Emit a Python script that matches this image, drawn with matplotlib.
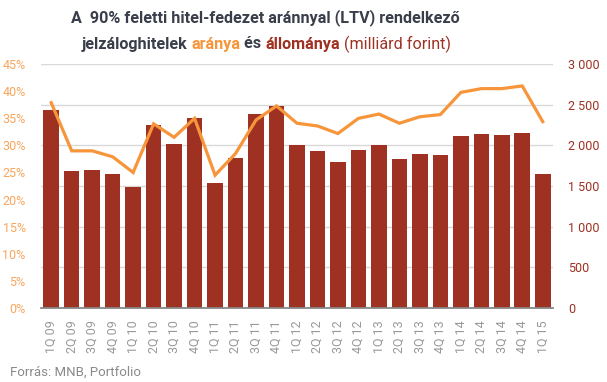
import numpy as np
import matplotlib
matplotlib.use("Agg")
import matplotlib.pyplot as plt

plt.rcParams['font.family'] = ['Roboto', 'DejaVu Sans']

quarters = ['1Q 09', '2Q 09', '3Q 09', '4Q 09', '1Q 10', '2Q 10', '3Q 10', '4Q 10',
            '1Q 11', '2Q 11', '3Q 11', '4Q 11', '1Q 12', '2Q 12', '3Q 12', '4Q 12',
            '1Q 13', '2Q 13', '3Q 13', '4Q 13', '1Q 14', '2Q 14', '3Q 14', '4Q 14', '1Q 15']
# állomány (milliárd forint) - jobb tengely
stock = [2437, 1685, 1697, 1648, 1491, 2248, 2018, 2338, 1537, 1845, 2391, 2486, 2005,
         1931, 1796, 1944, 2005, 1833, 1894, 1882, 2116, 2141, 2129, 2153, 1648]
# arány (%) - bal tengely
share = [37.9, 29.0, 29.0, 27.9, 25.0, 34.0, 31.5, 35.0, 24.5, 28.5, 34.7, 37.3, 34.1,
         33.6, 32.2, 35.0, 35.8, 34.1, 35.3, 35.7, 39.8, 40.5, 40.5, 41.0, 34.4]

left_ticks = [0, 5, 10, 15, 20, 25, 30, 35, 40, 45]
right_ticks = [0, 500, 1000, 1500, 2000, 2500, 3000]
right_labels = ['0', '500', '1 000', '1 500', '2 000', '2 500', '3 000']

BAR = '#9E3122'
LINE = '#F7953A'
LTXT = '#F9A55C'
DARK = '#3A3E4A'

fig = plt.figure(figsize=(6.07, 3.82), dpi=100)
ax = fig.add_axes([0.0675, 0.1945, 0.8435, 0.6372])
ax2 = ax.twinx()

x = np.arange(len(quarters))

# oszlopok a jobb tengelyen
ax2.bar(x, stock, width=0.76, color=BAR, zorder=2)
ax2.set_ylim(0, 3000)
ax2.set_yticks(right_ticks)
ax2.set_yticklabels(right_labels, color=BAR, fontsize=9)
ax2.tick_params(axis='y', length=0, pad=11)
for v in right_ticks[1:]:
    ax2.axhline(v, color='#D9D9D9', lw=1, zorder=0)

# a vonal legyen az oszlopok fölött
ax.set_zorder(ax2.get_zorder() + 1)
ax.patch.set_visible(False)
ax.plot(x, share, color=LINE, lw=2.3, solid_joinstyle='miter', zorder=3)
ax.set_ylim(0, 45)
ax.set_yticks(left_ticks)
ax.set_yticklabels([f'{t}%' for t in left_ticks], color=LTXT, fontsize=9)
ax.tick_params(axis='y', length=0, pad=11)
ax.set_xlim(-0.5, len(quarters) - 0.5)
ax.set_xticks(x)
ax.set_xticklabels(quarters, rotation=90, color='#999999', fontsize=9)
ax.tick_params(axis='x', length=0, pad=9)

for a in (ax, ax2):
    for s in ('top', 'left', 'right'):
        a.spines[s].set_visible(False)
    a.spines['bottom'].set_color('#888888')
    a.spines['bottom'].set_linewidth(1.3)
ax2.spines['bottom'].set_visible(False)

# cím
TSIZE = 11.6
fig.text(265 / 607, 1 - 18 / 382, 'A  90% feletti hitel-fedezet aránnyal (LTV) rendelkező',
         ha='center', va='center', fontsize=TSIZE, fontweight='bold', color=DARK)

parts = [('jelzáloghitelek ', DARK, 'bold'), ('aránya', LINE, 'bold'),
         (' és ', DARK, 'bold'), ('állománya', BAR, 'bold'),
         (' (milliárd forint)', BAR, 'normal')]
fig.canvas.draw()
renderer = fig.canvas.get_renderer()
widths = []
texts = []
for s, c, w in parts:
    t = fig.text(0, 1 - 44 / 382, s, ha='left', va='center', fontsize=TSIZE,
                 fontweight=w, color=c)
    texts.append(t)
    widths.append(t.get_window_extent(renderer).width)
total = sum(widths)
xpos = 266 - total / 2
for t, w in zip(texts, widths):
    t.set_x(xpos / 607)
    xpos += w

fig.text(10 / 607, 1 - 372 / 382, 'Forrás: MNB, Portfolio', ha='left', va='center',
         fontsize=9.5, color='#8A8A8A')

fig.savefig('out.png', dpi=100)
